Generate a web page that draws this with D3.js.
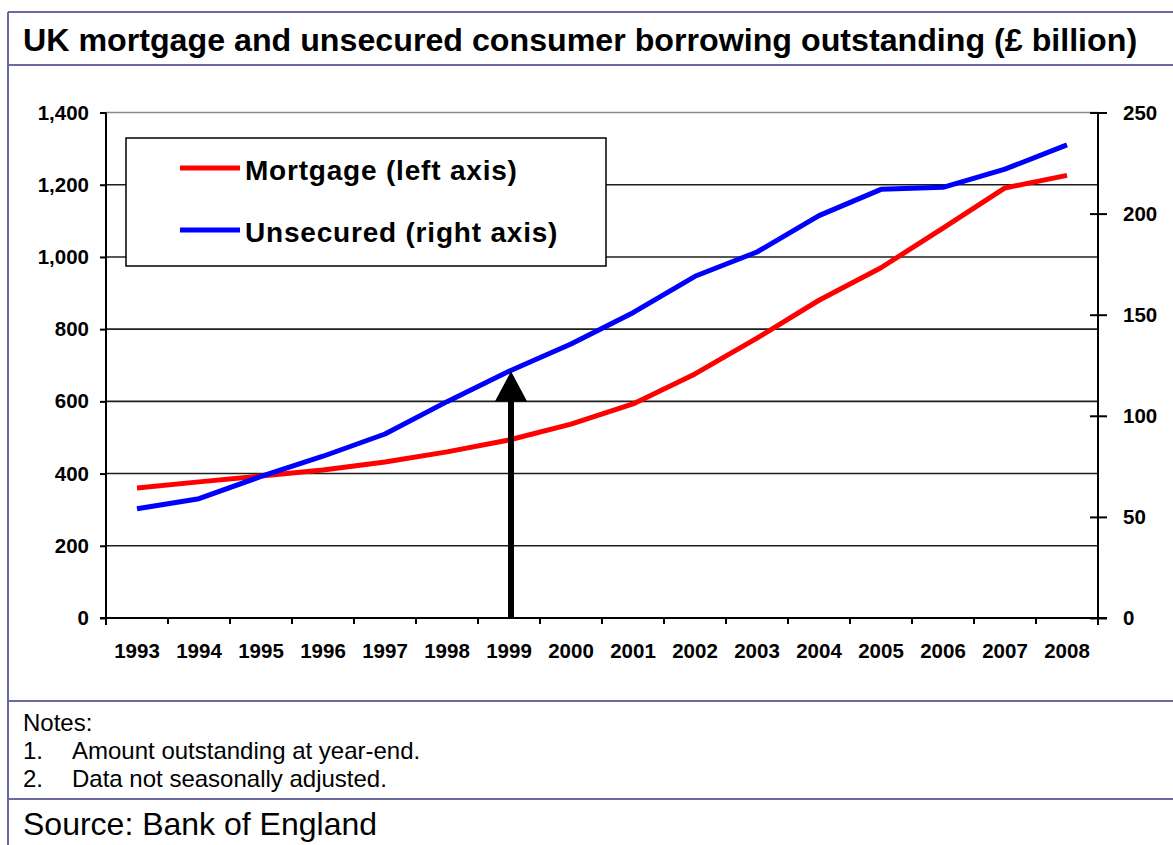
<!DOCTYPE html>
<html>
<head>
<meta charset="utf-8">
<script src="https://cdn.jsdelivr.net/npm/d3@7"></script>
<style>
  html, body { margin: 0; padding: 0; background: #fff; }
  svg { display: block; font-family: Arial, "Liberation Sans", sans-serif; }
</style>
</head>
<body>
<svg id="chart" width="1173" height="845"></svg>
<script>
// ---- data ----
const years = ["1993","1994","1995","1996","1997","1998","1999","2000","2001","2002","2003","2004","2005","2006","2007","2008"];
const mortgage = [360, 377, 393, 410, 432, 460, 493, 537, 593, 676, 775, 880, 970, 1080, 1191, 1226];
const unsecured = [54, 59, 70, 80, 91, 107, 122, 135.5, 151, 169, 181, 199, 212, 213, 222, 234];
const leftTicks = [0, 200, 400, 600, 800, 1000, 1200, 1400];
const rightTicks = [0, 50, 100, 150, 200, 250];
const seriesNames = ["Mortgage (left axis)", "Unsecured (right axis)"];
const seriesColors = ["#ff0000", "#0000ff"];
const arrowYear = "1999";
const titleText = "UK mortgage and unsecured consumer borrowing outstanding (£ billion)";
const notes = ["Notes:", "1.", "Amount outstanding at year-end.", "2.", "Data not seasonally adjusted."];
const sourceText = "Source: Bank of England";

// ---- layout ----
const svg = d3.select("#chart");
const W = 1173, H = 845;
const plot = { left: 106, right: 1098, top: 112.5, bottom: 618 };
const frameColor = "#6a6aa2";

const x = d3.scaleBand().domain(years).range([plot.left, plot.right]);
const yL = d3.scaleLinear().domain([0, 1400]).range([plot.bottom, plot.top]);
const yR = d3.scaleLinear().domain([0, 250]).range([plot.bottom, plot.top]);
const cx = d => x(d) + x.bandwidth() / 2;

// ---- frame ----
const frame = svg.append("g").attr("stroke", frameColor).attr("stroke-width", 2).attr("fill", "none");
frame.append("line").attr("x1", 8).attr("x2", 8).attr("y1", 12).attr("y2", H);
frame.append("line").attr("x1", 8).attr("x2", W).attr("y1", 12).attr("y2", 12);
frame.append("line").attr("x1", 8).attr("x2", W).attr("y1", 65).attr("y2", 65);
frame.append("line").attr("x1", 8).attr("x2", W).attr("y1", 701).attr("y2", 701);
frame.append("line").attr("x1", 8).attr("x2", W).attr("y1", 799).attr("y2", 799);

// title
svg.append("text").attr("x", 23).attr("y", 51)
  .attr("font-size", 32.2).attr("font-weight", "bold").attr("fill", "#000")
  .text(titleText);

// ---- gridlines ----
const grid = svg.append("g");
grid.selectAll("line").data(leftTicks.filter(d => d > 0)).join("line")
  .attr("x1", plot.left).attr("x2", plot.right)
  .attr("y1", d => yL(d)).attr("y2", d => yL(d))
  .attr("stroke", d => d === 1400 ? "#8a8a8a" : "#1e1e1e")
  .attr("stroke-width", 1.6);

// ---- legend ----
const lg = svg.append("g");
lg.append("rect").attr("x", 126).attr("y", 138).attr("width", 480).attr("height", 128)
  .attr("fill", "#fff").attr("stroke", "#000").attr("stroke-width", 1.5);
const legendRows = [168, 230];
seriesNames.forEach((name, i) => {
  lg.append("line").attr("x1", 180).attr("x2", 240)
    .attr("y1", legendRows[i]).attr("y2", legendRows[i])
    .attr("stroke", seriesColors[i]).attr("stroke-width", 5);
  lg.append("text").attr("x", 245).attr("y", legendRows[i] + 12)
    .attr("font-size", 28).attr("font-weight", "bold").attr("letter-spacing", 0.8)
    .attr("fill", "#000").text(name);
});

// ---- lines ----
const lineL = d3.line().x((d, i) => cx(years[i])).y(d => yL(d));
const lineR = d3.line().x((d, i) => cx(years[i])).y(d => yR(d));
svg.append("path").datum(mortgage).attr("d", lineL)
  .attr("fill", "none").attr("stroke", seriesColors[0]).attr("stroke-width", 5)
  .attr("stroke-linejoin", "round");
svg.append("path").datum(unsecured).attr("d", lineR)
  .attr("fill", "none").attr("stroke", seriesColors[1]).attr("stroke-width", 5)
  .attr("stroke-linejoin", "round");

// ---- arrow ----
const ai = years.indexOf(arrowYear);
const ax = cx(arrowYear) + 2;
const tipY = yR(unsecured[ai]);
const headH = 30, headW = 32;
svg.append("line").attr("x1", ax).attr("x2", ax).attr("y1", plot.bottom).attr("y2", tipY + headH - 1)
  .attr("stroke", "#000").attr("stroke-width", 6);
svg.append("path")
  .attr("d", `M${ax},${tipY} L${ax + headW / 2},${tipY + headH} L${ax - headW / 2},${tipY + headH} Z`)
  .attr("fill", "#000");

// ---- axes ----
const axisStyle = g => {
  g.selectAll("path.domain").attr("stroke", "#000").attr("stroke-width", 2);
  g.selectAll(".tick line").attr("stroke", "#000").attr("stroke-width", 2);
  g.selectAll("text").attr("font-size", 20.5).attr("font-weight", "bold").attr("fill", "#000")
    .attr("font-family", "Arial, 'Liberation Sans', sans-serif");
};

// left axis
svg.append("g").attr("transform", `translate(${plot.left},0)`)
  .call(d3.axisLeft(yL).tickValues(leftTicks).tickFormat(d3.format(",")).tickSizeInner(6).tickSizeOuter(0).tickPadding(11))
  .call(axisStyle)
  .call(g => g.select("path.domain").attr("d", `M0,${plot.top}V${plot.bottom + 7}`));

// right axis
svg.append("g").attr("transform", `translate(${plot.right},0)`)
  .call(d3.axisRight(yR).tickValues(rightTicks).tickSizeInner(8).tickSizeOuter(0).tickPadding(17))
  .call(axisStyle)
  .call(g => g.select("path.domain").attr("d", `M0,${plot.top}V${plot.bottom + 7}`))
  .call(g => g.selectAll(".tick line").attr("x1", -8).attr("x2", 9));

// bottom axis
const bx = svg.append("g").attr("transform", `translate(0,${plot.bottom})`);
bx.call(d3.axisBottom(x).tickSize(0).tickPadding(25))
  .call(axisStyle)
  .call(g => g.select("path.domain").attr("d", `M${plot.left - 6},0H${plot.right + 9}`))
  .call(g => g.selectAll("text").attr("dy", "0.71em"));
const bounds = years.map(d => x(d)).concat([x(years[years.length - 1]) + x.bandwidth()]);
bx.append("g").selectAll("line").data(bounds).join("line")
  .attr("x1", d => d).attr("x2", d => d).attr("y1", 0).attr("y2", 6)
  .attr("stroke", "#000").attr("stroke-width", 2);

// ---- notes ----
const nt = svg.append("g").attr("font-size", 24).attr("fill", "#000");
nt.append("text").attr("x", 23).attr("y", 731).text(notes[0]);
nt.append("text").attr("x", 23).attr("y", 759).text(notes[1]);
nt.append("text").attr("x", 72).attr("y", 759).text(notes[2]);
nt.append("text").attr("x", 23).attr("y", 787).text(notes[3]);
nt.append("text").attr("x", 72).attr("y", 787).text(notes[4]);

svg.append("text").attr("x", 23).attr("y", 835).attr("font-size", 32).attr("fill", "#000")
  .text(sourceText);
</script>
</body>
</html>
